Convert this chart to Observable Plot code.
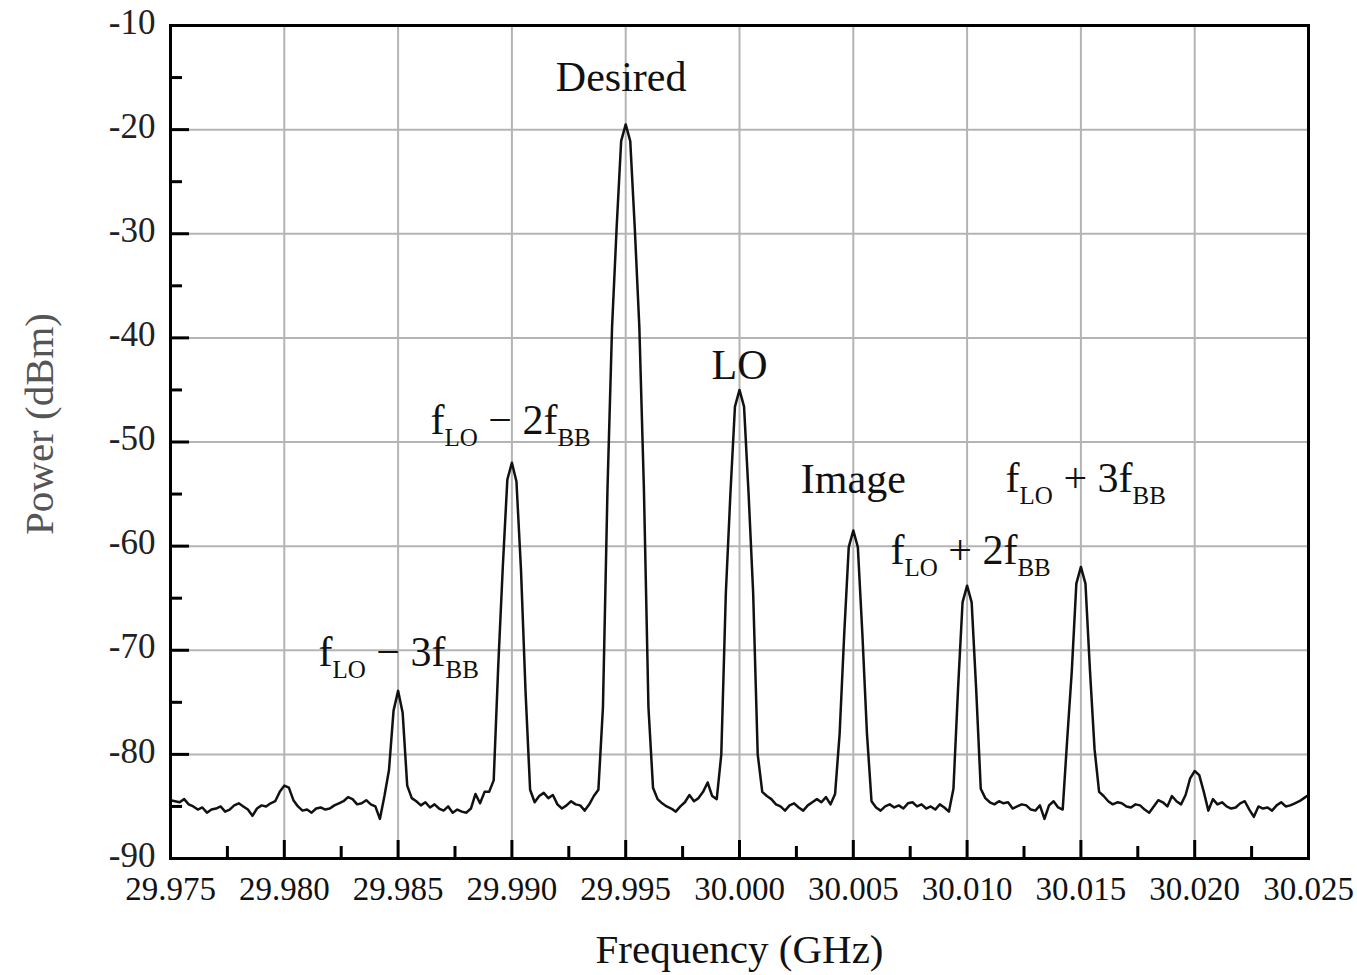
<!DOCTYPE html>
<html><head><meta charset="utf-8">
<script src="https://cdn.jsdelivr.net/npm/d3@7"></script>
<script src="https://cdn.jsdelivr.net/npm/@observablehq/plot@0.6"></script>
<style>
html,body{margin:0;padding:0;background:#fff;}
#chart svg{display:block;}
</style></head><body><div id="chart"></div>
<script>
// Spectrum sweep: start frequency and step (GHz), and measured power (dBm) at each step
const freqStart = 29.975;
const freqStep = 0.0002;
const powerDbm = [
  -84.4, -84.5, -84.6, -84.3, -84.8, -85.0, -85.3, -85.1, -85.6, -85.3,
  -85.2, -85.0, -85.5, -85.3, -84.9, -84.7, -85.0, -85.3, -85.9, -85.2,
  -84.9, -85.0, -84.7, -84.5, -83.6, -83.0, -83.2, -84.4, -85.0, -85.4,
  -85.3, -85.6, -85.2, -85.1, -85.3, -85.2, -84.9, -84.7, -84.5, -84.1,
  -84.3, -84.8, -84.7, -84.4, -84.8, -85.0, -86.2, -84.0, -81.5, -75.8,
  -73.9, -76.0, -83.0, -84.2, -84.5, -84.9, -84.6, -85.1, -84.8, -85.2,
  -85.4, -85.0, -85.6, -85.3, -85.5, -85.6, -85.2, -83.8, -84.7, -83.6,
  -83.6, -82.5, -71.5, -62.0, -53.6, -52.0, -53.8, -62.3, -74.0, -83.4,
  -84.6, -84.0, -83.7, -84.2, -83.9, -84.8, -85.2, -84.9, -84.5, -84.8,
  -84.9, -85.4, -84.8, -84.0, -83.4, -75.5, -54.5, -39.0, -29.5, -21.1,
  -19.5, -21.1, -29.5, -39.0, -54.5, -75.5, -83.2, -84.3, -84.7, -85.0,
  -85.2, -85.5, -85.0, -84.6, -83.9, -84.5, -84.2, -83.6, -82.7, -84.0,
  -84.3, -80.0, -64.5, -55.0, -46.6, -45.0, -46.6, -55.0, -64.5, -80.0,
  -83.6, -84.0, -84.3, -84.8, -85.0, -85.4, -84.9, -84.7, -85.1, -85.4,
  -84.9, -84.6, -84.3, -84.6, -84.1, -84.8, -83.8, -78.0, -68.5, -60.1,
  -58.5, -60.1, -68.5, -78.0, -84.5, -85.1, -85.4, -85.0, -84.8, -85.1,
  -84.9, -85.2, -84.7, -84.6, -85.0, -84.8, -85.2, -85.0, -85.3, -84.8,
  -85.1, -85.5, -83.3, -73.8, -65.4, -63.8, -65.4, -73.8, -83.3, -84.2,
  -84.6, -84.8, -84.5, -84.7, -84.6, -85.2, -85.0, -84.8, -84.9, -85.3,
  -85.4, -84.9, -86.2, -84.9, -84.5, -85.1, -85.3, -78.5, -72.0, -63.6,
  -62.0, -63.6, -72.0, -79.5, -83.6, -84.0, -84.5, -84.8, -84.6, -84.7,
  -85.0, -85.1, -84.8, -84.9, -85.3, -85.6, -85.0, -84.4, -84.6, -85.0,
  -84.0, -84.5, -84.8, -83.9, -82.3, -81.6, -82.0, -83.6, -85.4, -84.3,
  -84.8, -84.6, -85.0, -85.2, -85.1, -84.7, -84.5, -85.3, -86.0, -85.0,
  -85.2, -85.1, -85.4, -84.9, -84.6, -85.0, -84.9, -84.7, -84.5, -84.2,
  -83.9
];

// Axis ticks
const xTicks = [29.975, 29.980, 29.985, 29.990, 29.995, 30.000, 30.005, 30.010, 30.015, 30.020, 30.025];
const xMinor = [29.9775, 29.9825, 29.9875, 29.9925, 29.9975, 30.0025, 30.0075, 30.0125, 30.0175, 30.0225];
const xGrid = [29.980, 29.985, 29.990, 29.995, 30.000, 30.005, 30.010, 30.015, 30.020];
const yTicks = [-90, -80, -70, -60, -50, -40, -30, -20, -10];
const yMinor = [-85, -75, -65, -55, -45, -35, -25, -15];
const yGrid = [-80, -70, -60, -50, -40, -30, -20];

// Peak annotations
const peakLabels = ["Desired", "LO", "Image"];
const peakLabelFreq = [29.9948, 30.0, 30.005];
const peakLabelPower = [-15.0, -42.7, -53.6];
const spurLabels = ["f{LO} − 3f{BB}", "f{LO} − 2f{BB}", "f{LO} + 2f{BB}", "f{LO} + 3f{BB}"];
const spurLabelFreq = [29.9815, 29.98642, 30.00663, 30.01169];
const spurLabelPower = [-70.2, -47.9, -60.4, -53.5];

const trace = powerDbm.map((p, i) => ({f: freqStart + i * freqStep, p}));
const peaks = peakLabels.map((t, i) => ({t, f: peakLabelFreq[i], p: peakLabelPower[i]}));
const spurs = spurLabels.map((t, i) => ({t, f: spurLabelFreq[i], p: spurLabelPower[i]}));

const serif = "'Liberation Serif', 'Times New Roman', serif";

const plot = Plot.plot({
  width: 1357,
  height: 975,
  marginLeft: 170,
  marginRight: 49,
  marginTop: 25,
  marginBottom: 117,
  style: {fontFamily: serif, background: "#fff", color: "#111"},
  x: {domain: [29.975, 30.025], label: null},
  y: {domain: [-90, -10], label: null},
  marks: [
    Plot.gridX(xGrid, {stroke: "#b4b4b4", strokeWidth: 2, strokeOpacity: 1}),
    Plot.gridY(yGrid, {stroke: "#b4b4b4", strokeWidth: 2, strokeOpacity: 1}),
    Plot.line(trace, {x: "f", y: "p", stroke: "#111", strokeWidth: 2.5, strokeLinejoin: "round"}),
    Plot.axisX({ticks: xTicks, tickSize: -18, tickFormat: () => "", strokeWidth: 3, stroke: "#000", label: null}),
    Plot.axisX({ticks: xMinor, tickSize: -12, tickFormat: () => "", strokeWidth: 3, stroke: "#000", label: null}),
    Plot.axisX({ticks: xTicks, tickSize: 0, tickPadding: 18, tickFormat: d3.format(".3f"), fontSize: 33, fill: "#111", label: null}),
    Plot.axisY({ticks: yTicks, tickSize: -19, tickFormat: () => "", strokeWidth: 3, stroke: "#000", label: null}),
    Plot.axisY({ticks: yMinor, tickSize: -12, tickFormat: () => "", strokeWidth: 3, stroke: "#000", label: null}),
    Plot.axisY({ticks: yTicks, tickSize: 0, tickPadding: 15, tickFormat: d => String(d), fontSize: 35, fill: "#222", dy: -3, label: null}),
    Plot.frame({stroke: "#000", strokeWidth: 3}),
    Plot.text(peaks, {x: "f", y: "p", text: "t", fontSize: 42, fill: "#111", textAnchor: "middle"}),
    Plot.text(spurs, {x: "f", y: "p", text: "t", fontSize: 42, fill: "#111", textAnchor: "start"}),
    Plot.text(["Frequency (GHz)"], {frameAnchor: "bottom", textAnchor: "middle", lineAnchor: "middle", dy: 91, fontSize: 41, fill: "#111"}),
    Plot.text(["Power (dBm)"], {frameAnchor: "left", textAnchor: "middle", lineAnchor: "middle", dx: -131, dy: -18, rotate: -90, fontSize: 41, fill: "#555"})
  ]
});

// Render subscripts for the spur labels
d3.select(plot).selectAll("text").each(function () {
  const t = this.textContent;
  if (!t.includes("{")) return;
  const sel = d3.select(this);
  sel.text(null);
  const parts = t.split(/(\{[^}]*\})/);
  let shifted = false;
  parts.forEach(part => {
    if (!part) return;
    if (part.startsWith("{")) {
      sel.append("tspan").attr("dy", 12).attr("font-size", 25).text(part.slice(1, -1));
      shifted = true;
    } else {
      const ts = sel.append("tspan").text(part);
      if (shifted) { ts.attr("dy", -12); shifted = false; }
    }
  });
});

document.getElementById("chart").appendChild(plot);
</script>
</body></html>
